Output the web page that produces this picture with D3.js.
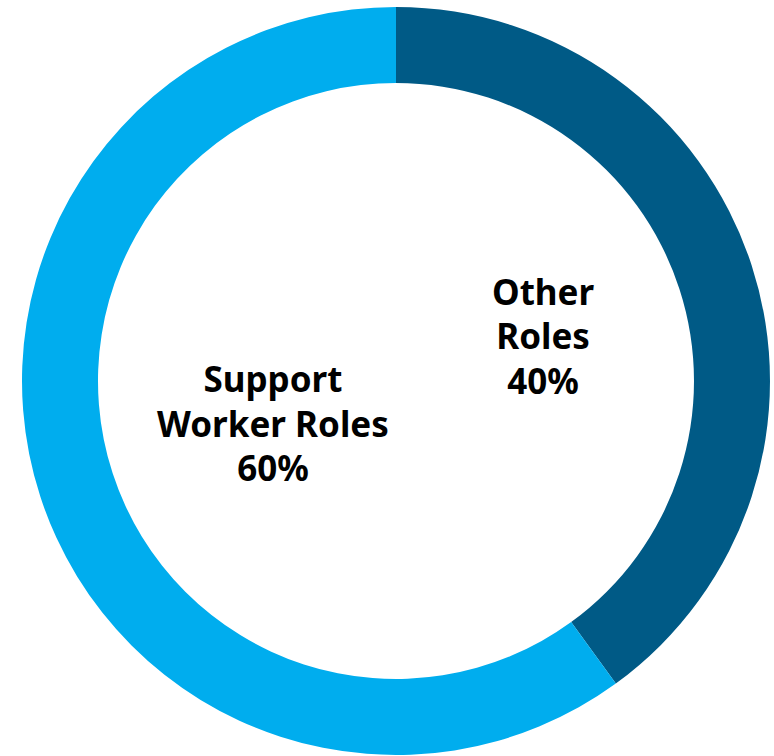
<!DOCTYPE html>
<html>
<head>
<meta charset="utf-8">
<script src="https://cdn.jsdelivr.net/npm/d3@7"></script>
<style>
  body { margin: 0; background: #fff; }
  svg { display: block; }
  .lbl { font-family: "Noto Sans", "Open Sans", sans-serif; font-weight: 700; font-size: 35px; fill: #000; }
</style>
</head>
<body>
<div id="vis"></div>
<script>
// share of roles
var categories = ["Other Roles", "Support Worker Roles"];
var labelLines = [["Other", "Roles"], ["Support", "Worker Roles"]];
var values = [40, 60];
var colors = ["#005a86", "#00adee"];

var width = 774, height = 756;
var cx = 396, cy = 381;
var outerR = 374, innerR = 298;

var svg = d3.select("#vis").append("svg")
    .attr("width", width)
    .attr("height", height);

var g = svg.append("g")
    .attr("transform", "translate(" + cx + "," + cy + ")");

var data = categories.map(function(c, i) {
    return {name: c, value: values[i], lines: labelLines[i], color: colors[i]};
});

// keep the order, start at 12 o'clock going clockwise
var pie = d3.pie().sort(null).value(function(d) { return d.value; });
var arc = d3.arc().innerRadius(innerR).outerRadius(outerR);
var labelArc = d3.arc().innerRadius(142).outerRadius(142);

var arcs = pie(data);

g.selectAll("path").data(arcs).enter().append("path")
    .attr("d", arc)
    .attr("fill", function(d) { return d.data.color; });

var lineH = 44.5;
var labels = g.selectAll("text.lbl").data(arcs).enter().append("text")
    .attr("class", "lbl")
    .attr("text-anchor", "middle")
    .attr("transform", function(d) {
        var c = labelArc.centroid(d);
        return "translate(" + (c[0] + 12) + "," + (c[1] - 1) + ")";
    });

labels.each(function(d) {
    var t = d3.select(this);
    var lines = d.data.lines.concat([d.data.value + "%"]);
    var y0 = -(lines.length - 1) / 2 * lineH + 13;
    lines.forEach(function(s, i) {
        t.append("tspan").attr("x", 0).attr("y", y0 + i * lineH).text(s);
    });
});
</script>
</body>
</html>
